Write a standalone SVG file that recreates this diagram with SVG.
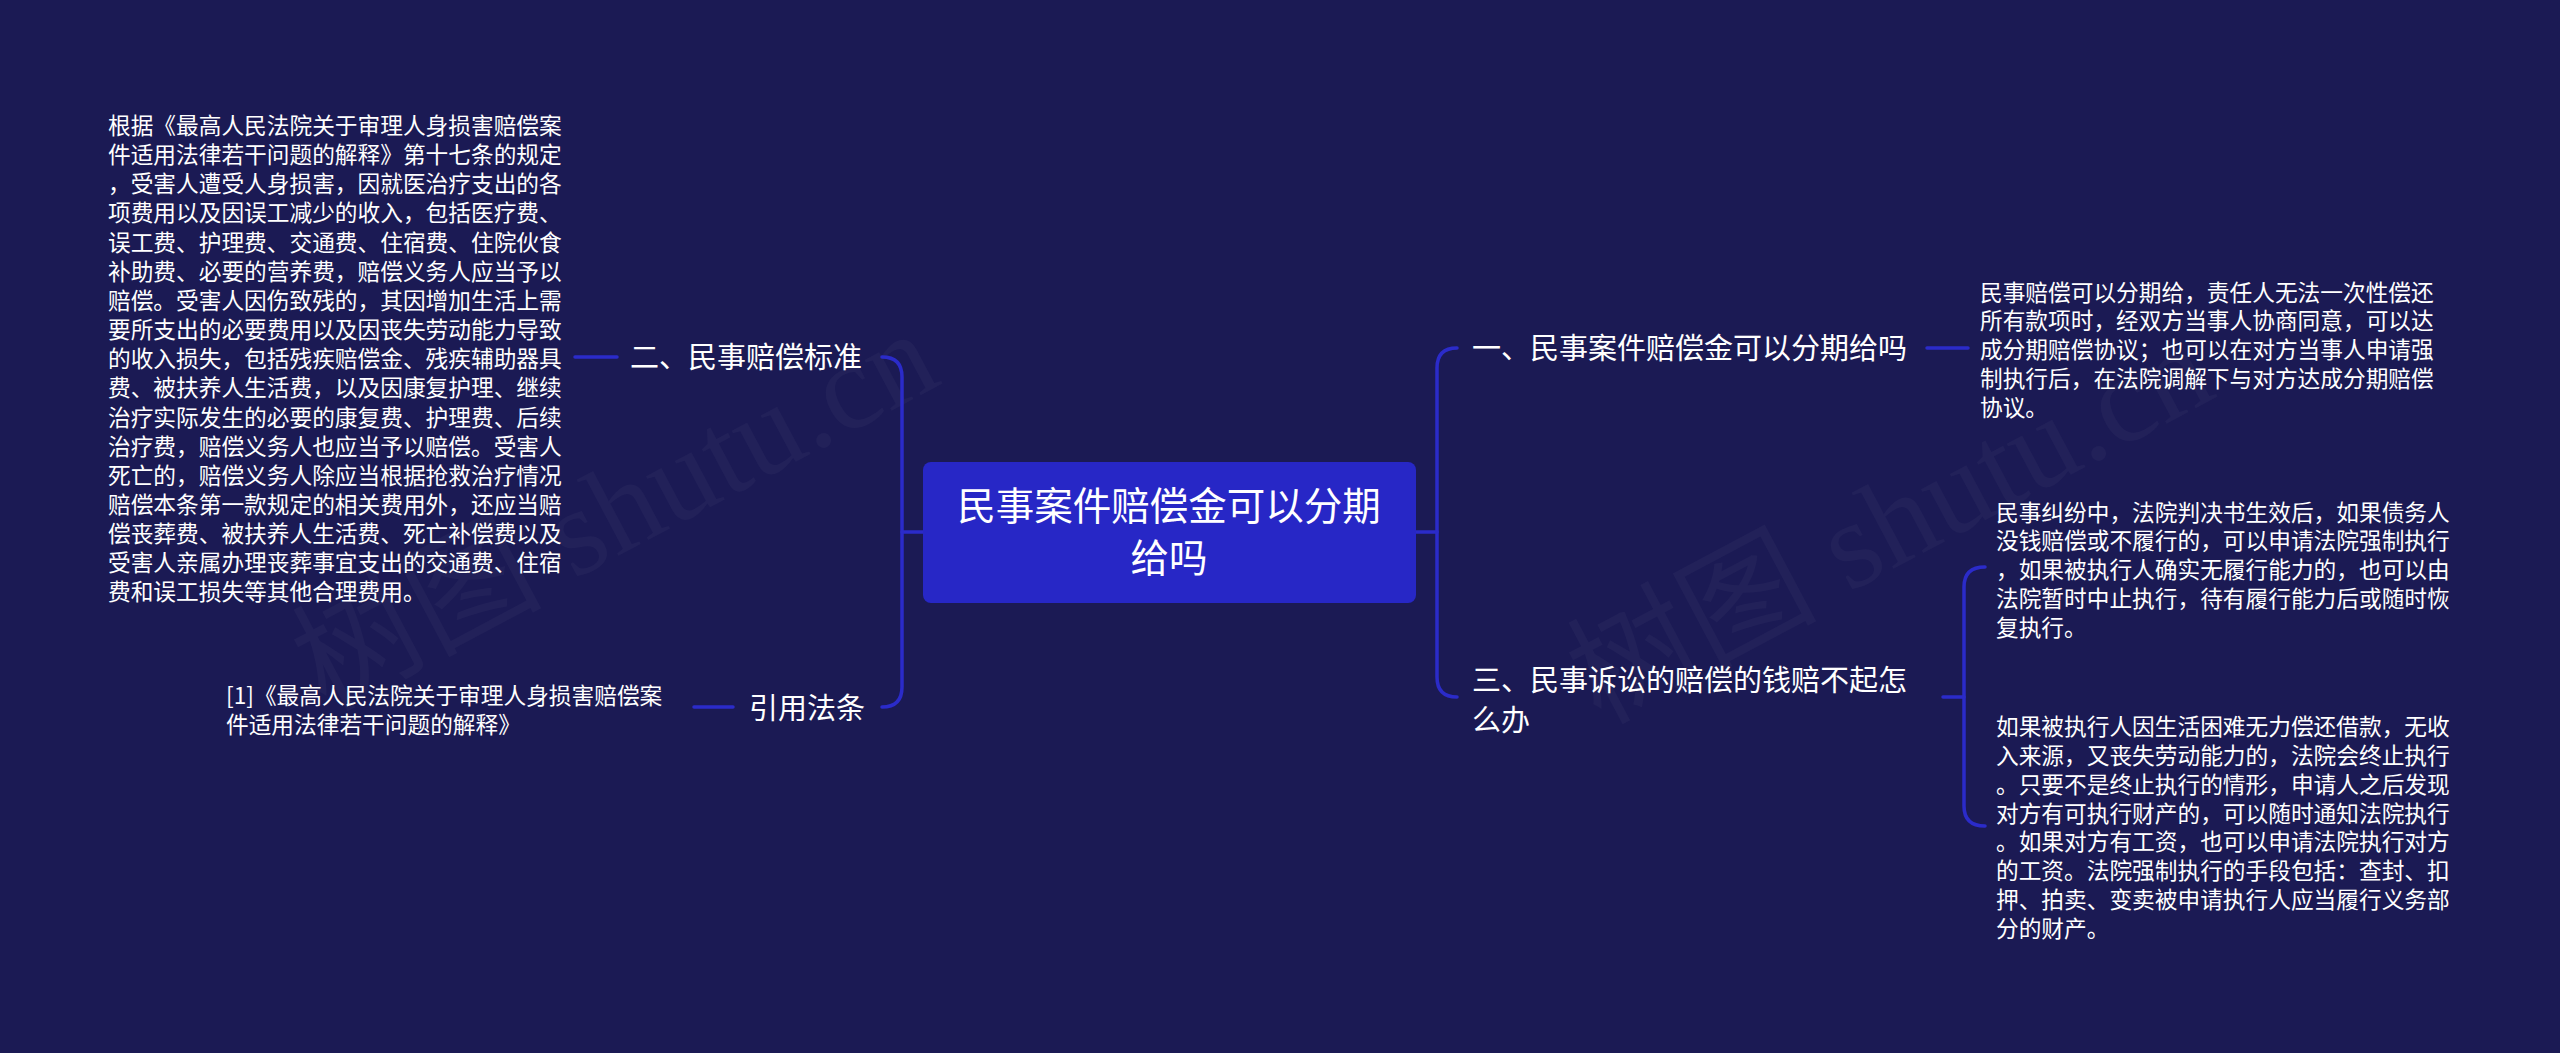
<svg xmlns="http://www.w3.org/2000/svg" width="2560" height="1053" viewBox="0 0 2560 1053">
<style>
.bg{fill:#1b1a54}
.ln{fill:none;stroke:#2b2bc9;stroke-width:3.5;stroke-linecap:round}
.t{font-family:"Noto Sans CJK SC","Noto Sans",sans-serif;fill:#ffffff}
.s{font-size:22.7px}
.m{font-size:29px}
.c{font-size:38.5px}
.wm{font-family:"Liberation Serif","Noto Sans CJK SC",serif;font-size:125px;fill:#ffffff;fill-opacity:0.03}
</style>
<rect class="bg" x="0" y="0" width="2560" height="1053"/>
<g id="watermark">
<text class="wm" transform="translate(325,712) rotate(-28)">树图 shutu.cn</text>
<text class="wm" transform="translate(1600,725) rotate(-28)">树图 shutu.cn</text>
</g>
<g id="connectors">
<path class="ln" d="M902 532 H924"/>
<path class="ln" d="M882 357 Q902 357 902 377 V687 Q902 707 882 707"/>
<path class="ln" d="M575 357 H617"/>
<path class="ln" d="M694 707 H733"/>
<path class="ln" d="M1416 532 H1437"/>
<path class="ln" d="M1457 348 Q1437 348 1437 368 V677 Q1437 697 1457 697"/>
<path class="ln" d="M1927 348 H1968"/>
<path class="ln" d="M1943 697 H1964"/>
<path class="ln" d="M1985 567 Q1964 567 1964 587 V806 Q1964 826 1985 826"/>
</g>
<g id="root">
<rect x="923" y="462" width="493" height="141" rx="8" fill="#2727c6"/>
<text class="t c" x="1169" y="520" text-anchor="middle">民事案件赔偿金可以分期</text>
<text class="t c" x="1169" y="572" text-anchor="middle">给吗</text>
</g>
<g id="n-standard">
<text class="t m" x="630" y="368">二、民事赔偿标准</text>
</g>
<g id="n-standard-detail">
<text class="t s" x="108">
<tspan x="108" y="134">根据《最高人民法院关于审理人身损害赔偿案</tspan>
<tspan x="108" y="163.15">件适用法律若干问题的解释》第十七条的规定</tspan>
<tspan x="108" y="192.3">，受害人遭受人身损害，因就医治疗支出的各</tspan>
<tspan x="108" y="221.45">项费用以及因误工减少的收入，包括医疗费、</tspan>
<tspan x="108" y="250.6">误工费、护理费、交通费、住宿费、住院伙食</tspan>
<tspan x="108" y="279.75">补助费、必要的营养费，赔偿义务人应当予以</tspan>
<tspan x="108" y="308.9">赔偿。受害人因伤致残的，其因增加生活上需</tspan>
<tspan x="108" y="338.05">要所支出的必要费用以及因丧失劳动能力导致</tspan>
<tspan x="108" y="367.2">的收入损失，包括残疾赔偿金、残疾辅助器具</tspan>
<tspan x="108" y="396.35">费、被扶养人生活费，以及因康复护理、继续</tspan>
<tspan x="108" y="425.5">治疗实际发生的必要的康复费、护理费、后续</tspan>
<tspan x="108" y="454.65">治疗费，赔偿义务人也应当予以赔偿。受害人</tspan>
<tspan x="108" y="483.8">死亡的，赔偿义务人除应当根据抢救治疗情况</tspan>
<tspan x="108" y="512.95">赔偿本条第一款规定的相关费用外，还应当赔</tspan>
<tspan x="108" y="542.1">偿丧葬费、被扶养人生活费、死亡补偿费以及</tspan>
<tspan x="108" y="571.25">受害人亲属办理丧葬事宜支出的交通费、住宿</tspan>
<tspan x="108" y="600.4">费和误工损失等其他合理费用。</tspan>
</text>
</g>
<g id="n-law">
<text class="t m" x="749" y="719">引用法条</text>
</g>
<g id="n-law-detail">
<text class="t s">
<tspan x="226" y="704">[1]《最高人民法院关于审理人身损害赔偿案</tspan>
<tspan x="226" y="732.5">件适用法律若干问题的解释》</tspan>
</text>
</g>
<g id="n-one">
<text class="t m" x="1472" y="359">一、民事案件赔偿金可以分期给吗</text>
</g>
<g id="n-one-detail">
<text class="t s">
<tspan x="1980" y="300.6">民事赔偿可以分期给，责任人无法一次性偿还</tspan>
<tspan x="1980" y="329.35">所有款项时，经双方当事人协商同意，可以达</tspan>
<tspan x="1980" y="358.1">成分期赔偿协议；也可以在对方当事人申请强</tspan>
<tspan x="1980" y="386.85">制执行后，在法院调解下与对方达成分期赔偿</tspan>
<tspan x="1980" y="415.6">协议。</tspan>
</text>
</g>
<g id="n-three">
<text class="t m">
<tspan x="1472" y="691">三、民事诉讼的赔偿的钱赔不起怎</tspan>
<tspan x="1472" y="731">么办</tspan>
</text>
</g>
<g id="n-three-a">
<text class="t s">
<tspan x="1996" y="520.6">民事纠纷中，法院判决书生效后，如果债务人</tspan>
<tspan x="1996" y="549.35">没钱赔偿或不履行的，可以申请法院强制执行</tspan>
<tspan x="1996" y="578.1">，如果被执行人确实无履行能力的，也可以由</tspan>
<tspan x="1996" y="606.85">法院暂时中止执行，待有履行能力后或随时恢</tspan>
<tspan x="1996" y="635.6">复执行。</tspan>
</text>
</g>
<g id="n-three-b">
<text class="t s">
<tspan x="1996" y="735.3">如果被执行人因生活困难无力偿还借款，无收</tspan>
<tspan x="1996" y="764.05">入来源，又丧失劳动能力的，法院会终止执行</tspan>
<tspan x="1996" y="792.8">。只要不是终止执行的情形，申请人之后发现</tspan>
<tspan x="1996" y="821.55">对方有可执行财产的，可以随时通知法院执行</tspan>
<tspan x="1996" y="850.3">。如果对方有工资，也可以申请法院执行对方</tspan>
<tspan x="1996" y="879.05">的工资。法院强制执行的手段包括：查封、扣</tspan>
<tspan x="1996" y="907.8">押、拍卖、变卖被申请执行人应当履行义务部</tspan>
<tspan x="1996" y="936.55">分的财产。</tspan>
</text>
</g>
</svg>
